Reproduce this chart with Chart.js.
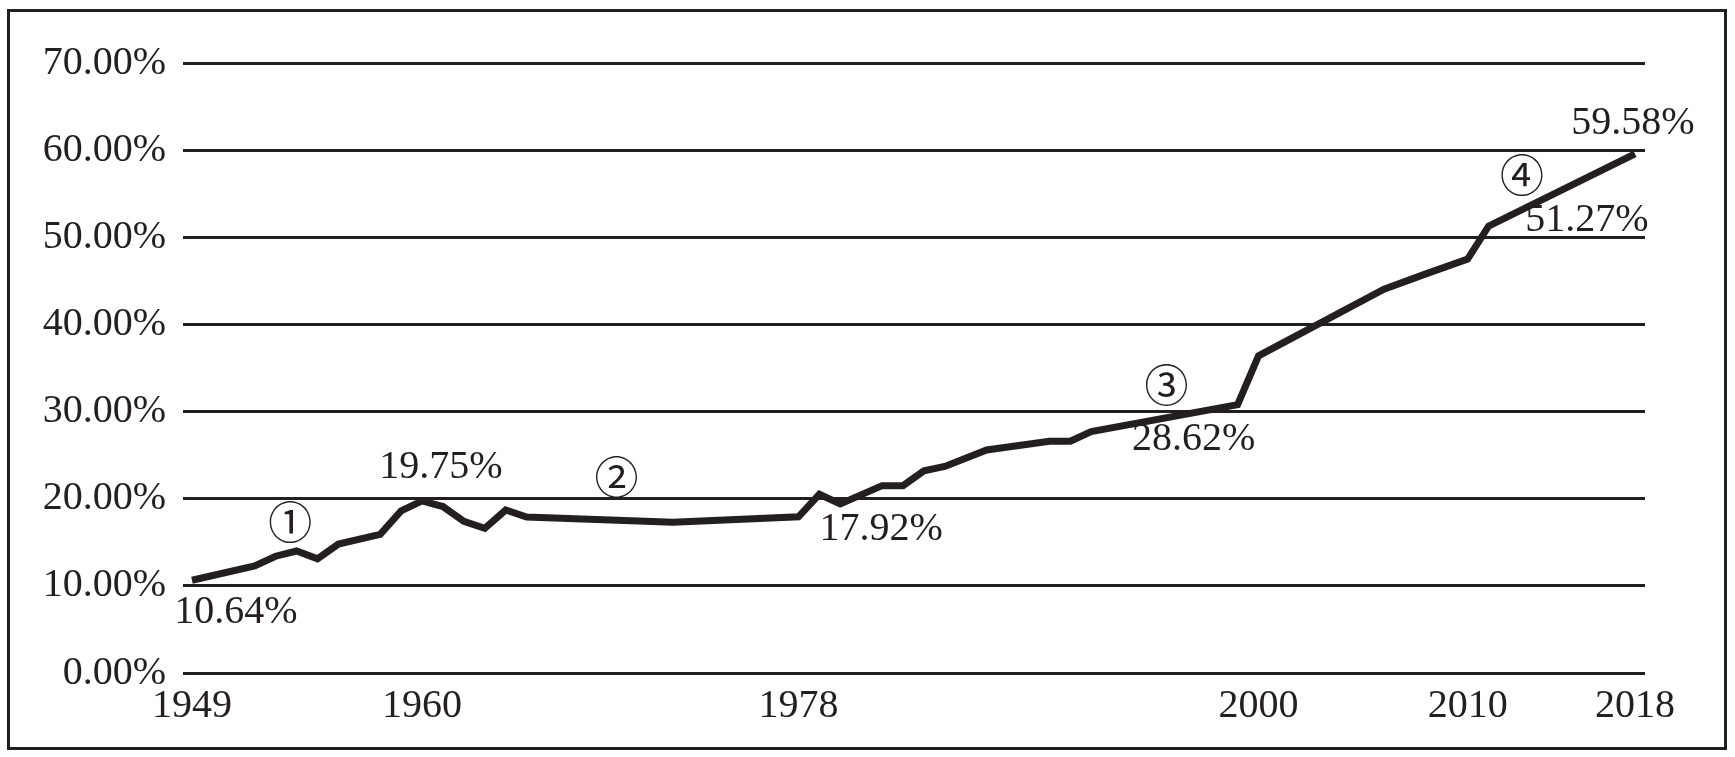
<!DOCTYPE html>
<html>
<head>
<meta charset="utf-8">
<title>城镇化率 1949-2018</title>
<script src="https://cdn.jsdelivr.net/npm/chart.js@4.4.1/dist/chart.umd.min.js"></script>
<style>
  html, body { margin: 0; padding: 0; background: #fff; overflow: hidden; }
  .chart-wrap { position: relative; width: 1735px; height: 757px; }
</style>
</head>
<body>
<div class="chart-wrap"><canvas id="urban-chart"></canvas></div>
<script>
// values (year -> urbanisation rate, %)
const years = [1949, 1952, 1953, 1954, 1955, 1956, 1958, 1959, 1960, 1961, 1962, 1963, 1964, 1965,
  1972, 1978, 1979, 1980, 1982, 1983, 1984, 1985, 1987, 1990, 1991, 1992, 1999, 2000,
  2006, 2008, 2010, 2011, 2018];
const rates = [10.64, 12.3, 13.4, 14.0, 13.1, 14.8, 15.9, 18.6, 19.75, 19.1, 17.4, 16.6, 18.7, 17.9,
  17.3, 17.92, 20.5, 19.4, 21.5, 21.5, 23.2, 23.7, 25.6, 26.6, 26.6, 27.7, 30.8, 36.4,
  44.05, 45.8, 47.5, 51.27, 59.58];

const xTickYears = [1949, 1960, 1978, 2000, 2010, 2018];
const yTickValues = [0, 10, 20, 30, 40, 50, 60, 70];

// annotations written on the chart, placed in data units
const noteTexts = ['10.64%', '19.75%', '17.92%', '28.62%', '51.27%', '59.58%', '①', '②', '③', '④'];
const noteYears = [1951.1, 1960.9, 1981.95, 1996.9, 2015.7, 2017.9, 1953.7, 1969.3, 1995.6, 2012.6];
const noteValues = [6.9, 23.6, 16.5, 26.85, 51.9, 63.1, 17.3, 22.5, 33.05, 57.15];

(function () {
  'use strict';

  const ink = '#231f20';
  const serif = "'Liberation Serif', 'Times New Roman', serif";
  const circled = "'Noto Sans CJK SC', 'DejaVu Sans', sans-serif";

  // frame around the whole picture
  const framePlugin = {
    id: 'frame',
    afterDraw: function (chart) {
      const ctx = chart.ctx;
      ctx.save();
      ctx.strokeStyle = ink;
      ctx.lineWidth = 3;
      ctx.strokeRect(8.5, 10.5, chart.width - 18, chart.height - 19);
      ctx.restore();
    }
  };

  // text notes next to the line
  const notesPlugin = {
    id: 'notes',
    afterDatasetsDraw: function (chart) {
      const ctx = chart.ctx;
      const xs = chart.scales.x;
      const ys = chart.scales.y;
      ctx.save();
      ctx.fillStyle = ink;
      ctx.textAlign = 'center';
      ctx.textBaseline = 'middle';
      noteTexts.forEach((txt, i) => {
        const isCircled = /[\u2460-\u2473]/.test(txt);
        ctx.font = isCircled ? '44px ' + circled : '40px ' + serif;
        ctx.fillText(txt, xs.getPixelForValue(noteYears[i]), ys.getPixelForValue(noteValues[i]));
      });
      ctx.restore();
    }
  };

  new Chart(document.getElementById('urban-chart'), {
    type: 'line',
    data: {
      datasets: [{
        label: '城镇化率',
        data: years.map((y, i) => ({ x: y, y: rates[i] })),
        borderColor: ink,
        borderWidth: 7,
        borderJoinStyle: 'miter',
        borderCapStyle: 'butt',
        pointRadius: 0,
        tension: 0,
        fill: false
      }]
    },
    options: {
      responsive: true,
      maintainAspectRatio: false,
      animation: false,
      layout: {
        padding: { left: 0, top: 63, right: 90, bottom: 0 }
      },
      scales: {
        x: {
          type: 'linear',
          min: 1948.57,
          max: 2018.48,
          afterBuildTicks: function (scale) {
            scale.ticks = xTickYears.map(v => ({ value: v }));
          },
          afterFit: function (scale) {
            scale.height = 84;
          },
          grid: { display: false, drawTicks: false },
          border: { display: false },
          ticks: {
            padding: 9,
            color: ink,
            font: { family: serif, size: 40 },
            maxRotation: 0,
            autoSkip: false,
            callback: v => String(v)
          }
        },
        y: {
          min: 0,
          max: 70,
          afterBuildTicks: function (scale) {
            scale.ticks = yTickValues.map(v => ({ value: v }));
          },
          afterFit: function (scale) {
            scale.width = 183;
          },
          grid: { color: ink, lineWidth: 3, drawTicks: false },
          border: { display: false },
          ticks: {
            padding: 17,
            color: ink,
            font: { family: serif, size: 40 },
            callback: v => v.toFixed(2) + '%'
          }
        }
      },
      plugins: {
        legend: { display: false },
        tooltip: { enabled: false }
      }
    },
    plugins: [framePlugin, notesPlugin]
  });
})();
</script>
</body>
</html>
